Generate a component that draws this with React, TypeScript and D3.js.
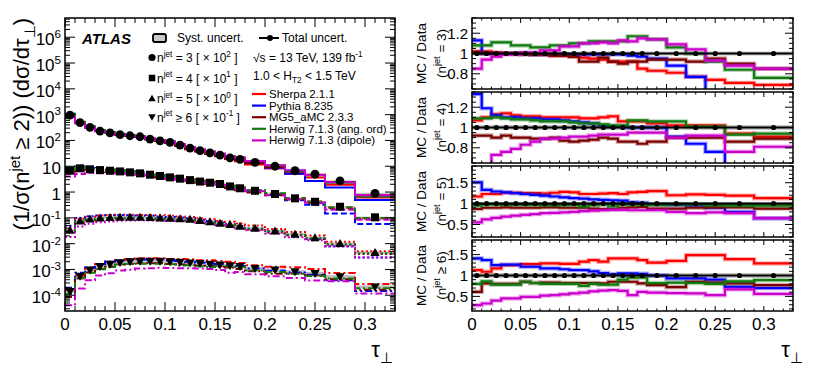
import React from 'react';
import * as d3 from 'd3';

// ---------- data ----------
const binEdges = [0, 0.01, 0.02, 0.03, 0.04, 0.05, 0.06, 0.07, 0.08, 0.09, 0.1, 0.11, 0.12, 0.13, 0.14, 0.15, 0.16, 0.17, 0.18, 0.2, 0.22, 0.24, 0.26, 0.29, 0.33];
const xTickValues = [0, 0.05, 0.1, 0.15, 0.2, 0.25, 0.3];
const xTickLabels = ['0', '0.05', '0.1', '0.15', '0.2', '0.25', '0.3'];
const nJetLabels = ['3', '4', '5', '6'];
const scaleExponents = [2, 1, 0, -1];

// normalised cross sections (unscaled)
const dataN3 = [9.5, 4.9, 3.22, 2.3, 1.95, 1.67, 1.52, 1.39, 1.13, 0.97, 0.84, 0.66, 0.5, 0.4, 0.33, 0.27, 0.21, 0.185, 0.14, 0.1, 0.067, 0.049, 0.027, 0.0089];
const dataN4 = [0.67, 0.83, 0.76, 0.71, 0.67, 0.63, 0.58, 0.53, 0.47, 0.42, 0.37, 0.33, 0.29, 0.255, 0.23, 0.205, 0.165, 0.14, 0.112, 0.084, 0.057, 0.042, 0.027, 0.0105];
const dataN5 = [0.033, 0.075, 0.09, 0.098, 0.102, 0.105, 0.105, 0.104, 0.102, 0.099, 0.096, 0.092, 0.087, 0.078, 0.07, 0.062, 0.055, 0.047, 0.039, 0.031, 0.023, 0.017, 0.01, 0.0045];
const dataN6 = [0.0014, 0.0055, 0.0095, 0.013, 0.016, 0.0185, 0.02, 0.021, 0.021, 0.021, 0.02, 0.019, 0.018, 0.017, 0.016, 0.015, 0.014, 0.013, 0.011, 0.0095, 0.0082, 0.007, 0.0052, 0.0021];

// MC / Data ratios
const sherpaN3 = [1.02, 1.02, 1.01, 1.0, 1.0, 1.0, 0.99, 0.99, 0.98, 0.98, 0.97, 0.96, 0.95, 0.94, 0.92, 0.92, 0.92, 0.85, 0.83, 0.81, 0.77, 0.74, 0.71, 0.69];
const pythiaN3 = [1.13, 1.0, 1.0, 1.0, 1.0, 1.0, 0.99, 0.99, 0.99, 0.99, 0.99, 0.99, 0.99, 0.99, 0.99, 0.99, 0.98, 0.97, 0.95, 0.88, 0.77, 0.55, 0.55, 0.55];
const mg5N3 = [1.01, 1.0, 1.0, 1.0, 1.0, 0.99, 0.99, 0.99, 0.98, 0.98, 0.97, 0.92, 0.92, 0.96, 0.92, 0.9, 0.92, 0.92, 0.94, 0.94, 0.92, 0.95, 0.9, 0.85];
const herwigAngN3 = [1.08, 1.08, 1.11, 1.11, 1.08, 1.08, 1.06, 1.06, 1.08, 1.08, 1.1, 1.1, 1.12, 1.12, 1.12, 1.12, 1.17, 1.17, 1.14, 1.06, 1.0, 0.92, 0.84, 0.76];
const herwigDipN3 = [0.85, 0.94, 0.97, 0.99, 0.99, 1.01, 1.01, 1.03, 1.03, 1.07, 1.07, 1.1, 1.1, 1.11, 1.1, 1.13, 1.12, 1.15, 1.14, 1.09, 1.04, 0.93, 0.88, 0.85];

const sherpaN4 = [1.07, 1.1, 1.13, 1.14, 1.12, 1.11, 1.11, 1.1, 1.1, 1.1, 1.1, 1.09, 1.09, 1.1, 1.11, 1.06, 1.06, 1.06, 1.04, 1.02, 1.02, 1.02, 0.94, 0.91];
const pythiaN4 = [1.33, 1.19, 1.12, 1.1, 1.1, 1.09, 1.09, 1.08, 1.08, 1.07, 1.06, 1.05, 1.04, 1.02, 1.01, 1.01, 1.0, 1.0, 1.0, 0.91, 0.84, 0.76, 0.55, 0.55];
const mg5N4 = [0.92, 0.92, 0.9, 0.92, 0.9, 0.9, 0.89, 0.89, 0.9, 0.87, 0.86, 0.87, 0.88, 0.9, 0.89, 0.86, 0.86, 0.84, 0.86, 0.9, 0.9, 0.9, 0.86, 0.89];
const herwigAngN4 = [1.09, 1.09, 1.1, 1.09, 1.08, 1.08, 1.07, 1.06, 1.06, 1.06, 1.05, 1.04, 1.04, 1.03, 1.02, 1.02, 1.07, 1.07, 1.06, 1.06, 1.01, 1.01, 0.93, 0.94];
const herwigDipN4 = [0.6, 0.6, 0.73, 0.76, 0.79, 0.83, 0.86, 0.89, 0.89, 0.9, 0.91, 0.91, 0.92, 0.93, 0.93, 0.93, 0.95, 0.95, 0.95, 0.9, 0.92, 0.92, 0.76, 0.81];

const sherpaN5 = [1.17, 1.23, 1.23, 1.26, 1.26, 1.25, 1.25, 1.24, 1.26, 1.28, 1.27, 1.23, 1.23, 1.24, 1.25, 1.23, 1.27, 1.28, 1.3, 1.2, 1.22, 1.21, 1.19, 1.13];
const pythiaN5 = [1.51, 1.33, 1.29, 1.27, 1.25, 1.23, 1.21, 1.19, 1.17, 1.15, 1.13, 1.12, 1.1, 1.09, 1.08, 1.07, 1.03, 1.02, 0.98, 0.97, 0.95, 0.9, 0.8, 0.65];
const mg5N5 = [0.87, 0.9, 0.9, 0.91, 0.9, 0.9, 0.9, 0.91, 0.91, 0.9, 0.9, 0.9, 0.88, 0.87, 0.87, 0.9, 0.91, 0.92, 0.88, 0.88, 0.9, 0.91, 0.91, 0.88];
const herwigAngN5 = [0.95, 0.98, 0.98, 0.97, 0.97, 0.97, 0.97, 0.96, 0.96, 0.96, 0.97, 0.93, 0.96, 0.98, 0.93, 0.98, 0.98, 0.98, 0.97, 0.98, 0.98, 0.96, 0.95, 0.95];
const herwigDipN5 = [0.55, 0.62, 0.66, 0.69, 0.71, 0.73, 0.75, 0.77, 0.78, 0.79, 0.8, 0.82, 0.83, 0.84, 0.85, 0.85, 0.84, 0.84, 0.84, 0.8, 0.77, 0.79, 0.77, 0.65];

const sherpaN6 = [1.13, 1.09, 1.17, 1.25, 1.25, 1.27, 1.27, 1.29, 1.29, 1.28, 1.28, 1.33, 1.37, 1.33, 1.41, 1.41, 1.41, 1.37, 1.31, 1.35, 1.49, 1.49, 1.39, 1.29];
const pythiaN6 = [1.41, 1.37, 1.25, 1.26, 1.26, 1.21, 1.21, 1.17, 1.17, 1.15, 1.13, 1.13, 1.1, 1.06, 1.03, 1.05, 1.05, 1.04, 1.0, 0.93, 0.93, 0.9, 0.73, 0.7];
const mg5N6 = [0.61, 0.81, 0.8, 0.8, 0.8, 0.85, 0.82, 0.83, 0.83, 0.82, 0.82, 0.82, 0.82, 0.81, 0.85, 0.85, 0.85, 0.81, 0.77, 0.72, 0.85, 0.83, 0.81, 0.77];
const herwigAngN6 = [0.8, 0.86, 0.78, 0.78, 0.78, 0.85, 0.82, 0.8, 0.8, 0.8, 0.8, 0.75, 0.8, 0.78, 0.78, 0.9, 0.95, 0.95, 0.82, 0.83, 0.82, 0.8, 0.86, 0.89];
const herwigDipN6 = [0.29, 0.33, 0.4, 0.45, 0.45, 0.49, 0.49, 0.52, 0.53, 0.55, 0.57, 0.59, 0.62, 0.64, 0.65, 0.63, 0.53, 0.61, 0.59, 0.58, 0.57, 0.53, 0.67, 0.56];

const relSystUncert = [0.02, 0.025, 0.04, 0.06];

const mcNames = ['Sherpa 2.1.1', 'Pythia 8.235', 'MG5_aMC 2.3.3', 'Herwig 7.1.3 (ang. ord)', 'Herwig 7.1.3 (dipole)'];
const mcColors = ['#ff0000', '#0000ff', '#7a0000', '#0f7a0f', '#cc00cc'];

const dataByN = [dataN3, dataN4, dataN5, dataN6];
const ratiosByN = [
  [sherpaN3, pythiaN3, mg5N3, herwigAngN3, herwigDipN3],
  [sherpaN4, pythiaN4, mg5N4, herwigAngN4, herwigDipN4],
  [sherpaN5, pythiaN5, mg5N5, herwigAngN5, herwigDipN5],
  [sherpaN6, pythiaN6, mg5N6, herwigAngN6, herwigDipN6],
];

// ---------- layout ----------
const W = 814, H = 386;
const FONT = '"Liberation Sans", Arial, Helvetica, sans-serif';
const L = { x0: 65, x1: 395, y0: 18, y1: 311 };
const R = { x0: 472, x1: 793 };
const ratioPanels = [
  { top: 18, bot: 89, dom: [0.65, 1.35], major: [0.8, 1, 1.2], labels: ['0.8', '1', '1.2'], minor: 0.05 },
  { top: 92, bot: 163, dom: [0.65, 1.35], major: [0.8, 1, 1.2], labels: ['0.8', '1', '1.2'], minor: 0.05 },
  { top: 166, bot: 237, dom: [0.2, 1.9], major: [0.5, 1, 1.5], labels: ['0.5', '1', '1.5'], minor: 0.1 },
  { top: 240, bot: 311, dom: [0.15, 1.85], major: [0.5, 1, 1.5], labels: ['0.5', '1', '1.5'], minor: 0.1 },
];
const leftDash = ['none', '6,3', '2,2.5', '7,3,2,3'];

type Part = { t: string; s?: 'sup' | 'sub' };
function Rich(props: { parts: Part[]; x?: number; y?: number; size: number; anchor?: string; transform?: string; weight?: string; style?: string }) {
  const { parts, x = 0, y = 0, size, anchor = 'start', transform } = props;
  let cur = 0;
  const spans = parts.map((p, i) => {
    const target = p.s === 'sup' ? -size * 0.42 : p.s === 'sub' ? size * 0.28 : 0;
    const dy = target - cur;
    cur = target;
    return (
      <tspan key={i} dy={dy} fontSize={p.s ? size * 0.68 : size}>
        {p.t}
      </tspan>
    );
  });
  return (
    <text x={x} y={y} fontSize={size} textAnchor={anchor} transform={transform} fontFamily={FONT} fontWeight={props.weight} fontStyle={props.style} fill="#000">
      {spans}
    </text>
  );
}

function Marker({ kind, x, y, s }: { kind: number; x: number; y: number; s: number }) {
  if (kind === 0) return <circle cx={x} cy={y} r={s * 0.55} fill="#000" />;
  if (kind === 1) return <rect x={x - s * 0.5} y={y - s * 0.5} width={s} height={s} fill="#000" />;
  if (kind === 2) {
    const h = s * 0.95;
    return <path d={`M${x - s * 0.58},${y + h * 0.45}L${x + s * 0.58},${y + h * 0.45}L${x},${y - h * 0.6}Z`} fill="#000" />;
  }
  const h = s * 0.95;
  return <path d={`M${x - s * 0.58},${y - h * 0.45}L${x + s * 0.58},${y - h * 0.45}L${x},${y + h * 0.6}Z`} fill="#000" />;
}

function stepPoints(values: number[]): [number, number][] {
  const pts: [number, number][] = values.map((v, i) => [binEdges[i], v]);
  pts.push([binEdges[binEdges.length - 1], values[values.length - 1]]);
  return pts;
}

export default function App() {
  const xL = d3.scaleLinear().domain([0, 0.33]).range([L.x0, L.x1]);
  const yL = d3.scaleLog().domain([Math.pow(10, -4.61), Math.pow(10, 6.745)]).range([L.y1, L.y0]);
  const xR = d3.scaleLinear().domain([0, 0.33]).range([R.x0, R.x1]);
  const centers = binEdges.slice(0, -1).map((e, i) => (e + binEdges[i + 1]) / 2);

  const elems: React.ReactNode[] = [];

  // ---------------- LEFT PANEL ----------------
  dataByN.forEach((d, n) => {
    const sc = Math.pow(10, scaleExponents[n]);
    d.forEach((v, i) => {
      const u = relSystUncert[n] * 2.5;
      elems.push(
        <rect key={`sb${n}-${i}`} x={xL(binEdges[i])} width={xL(binEdges[i + 1]) - xL(binEdges[i])}
          y={yL(v * sc * (1 + u))} height={yL(v * sc * (1 - u)) - yL(v * sc * (1 + u))} fill="#bdbdbd" />
      );
    });
  });
  const lineL = d3.line<[number, number]>().x((p) => xL(p[0])).y((p) => yL(p[1])).curve(d3.curveStepAfter);
  dataByN.forEach((d, n) => {
    const sc = Math.pow(10, scaleExponents[n]);
    ratiosByN[n].forEach((r, m) => {
      const vals = d.map((v, i) => v * sc * r[i]);
      elems.push(
        <path key={`mc${n}-${m}`} d={lineL(stepPoints(vals)) || ''} fill="none" stroke={mcColors[m]}
          strokeWidth={2} strokeDasharray={leftDash[n] === 'none' ? undefined : leftDash[n]} />
      );
    });
  });
  dataByN.forEach((d, n) => {
    const sc = Math.pow(10, scaleExponents[n]);
    d.forEach((v, i) => {
      elems.push(<Marker key={`dm${n}-${i}`} kind={n} x={xL(centers[i])} y={yL(v * sc)} s={8} />);
    });
  });

  const leftTicks: React.ReactNode[] = [];
  for (let t = 0; t <= 0.33 + 1e-9; t += 0.01) {
    const tt = Math.round(t * 100) / 100;
    const major = Math.abs(tt * 20 - Math.round(tt * 20)) < 1e-6;
    const len = major ? 9 : 5;
    const x = xL(tt);
    leftTicks.push(<line key={`lxb${tt}`} x1={x} x2={x} y1={L.y1} y2={L.y1 - len} stroke="#000" strokeWidth={1} />);
    leftTicks.push(<line key={`lxt${tt}`} x1={x} x2={x} y1={L.y0} y2={L.y0 + len} stroke="#000" strokeWidth={1} />);
  }
  const [ymin, ymax] = yL.domain();
  for (let dec = -5; dec <= 6; dec++) {
    for (let k = 1; k <= 9; k++) {
      const v = k * Math.pow(10, dec);
      if (v < ymin || v > ymax) continue;
      const y = yL(v);
      const len = k === 1 ? 10 : 5;
      leftTicks.push(<line key={`lyl${dec}-${k}`} x1={L.x0} x2={L.x0 + len} y1={y} y2={y} stroke="#000" strokeWidth={1} />);
      leftTicks.push(<line key={`lyr${dec}-${k}`} x1={L.x1} x2={L.x1 - len} y1={y} y2={y} stroke="#000" strokeWidth={1} />);
    }
  }
  const yLabels: React.ReactNode[] = [];
  for (let dec = -4; dec <= 6; dec++) {
    const y = yL(Math.pow(10, dec));
    let parts: Part[];
    if (dec === 0) parts = [{ t: '1' }];
    else if (dec === 1) parts = [{ t: '10' }];
    else parts = [{ t: '10' }, { t: String(dec), s: 'sup' }];
    yLabels.push(<Rich key={`yl${dec}`} parts={parts} x={61} y={y + 8} size={17} anchor="end" />);
  }

  // ---------------- RIGHT PANELS ----------------
  const rightElems: React.ReactNode[] = [];
  ratioPanels.forEach((p, n) => {
    const yR = d3.scaleLinear().domain(p.dom).range([p.bot, p.top]);
    const clipId = `clip${n}`;
    const lineR = d3.line<[number, number]>().x((q) => xR(q[0])).y((q) => yR(q[1])).curve(d3.curveStepAfter);
    const inner: React.ReactNode[] = [];
    centers.forEach((c, i) => {
      const u = relSystUncert[n];
      inner.push(<rect key={`rb${i}`} x={xR(binEdges[i])} width={xR(binEdges[i + 1]) - xR(binEdges[i])}
        y={yR(1 + u)} height={yR(1 - u) - yR(1 + u)} fill="#c4c4c4" />);
    });
    ratiosByN[n].forEach((r, m) => {
      const d = lineR(stepPoints(r)) || '';
      inner.push(<path key={`h${m}`} d={d} fill="none" stroke={mcColors[m]} strokeOpacity={0.3} strokeWidth={4.5} />);
      inner.push(<path key={`l${m}`} d={d} fill="none" stroke={mcColors[m]} strokeWidth={2.2} />);
    });
    inner.push(<line key="one" x1={R.x0} x2={R.x1} y1={yR(1)} y2={yR(1)} stroke="#000" strokeWidth={2.2} />);
    centers.forEach((c, i) => {
      inner.push(<circle key={`dot${i}`} cx={xR(c)} cy={yR(1)} r={2.6} fill="#000" />);
    });
    rightElems.push(
      <g key={`panel${n}`}>
        <clipPath id={clipId}><rect x={R.x0} y={p.top} width={R.x1 - R.x0} height={p.bot - p.top} /></clipPath>
        <g clipPath={`url(#${clipId})`}>{inner}</g>
      </g>
    );
    for (let t = 0; t <= 0.33 + 1e-9; t += 0.01) {
      const tt = Math.round(t * 100) / 100;
      const major = Math.abs(tt * 20 - Math.round(tt * 20)) < 1e-6;
      const len = major ? 5 : 2.5;
      const x = xR(tt);
      rightElems.push(<line key={`rxb${n}-${tt}`} x1={x} x2={x} y1={p.bot} y2={p.bot - len} stroke="#000" strokeWidth={1} />);
      rightElems.push(<line key={`rxt${n}-${tt}`} x1={x} x2={x} y1={p.top} y2={p.top + len} stroke="#000" strokeWidth={1} />);
    }
    const start = Math.ceil(p.dom[0] / p.minor - 1e-9) * p.minor;
    for (let v = start; v <= p.dom[1] + 1e-9; v += p.minor) {
      const vv = Math.round(v * 100) / 100;
      const major = p.major.some((mj) => Math.abs(mj - vv) < 1e-6);
      const len = major ? 8 : 4;
      const y = yR(vv);
      rightElems.push(<line key={`ryl${n}-${vv}`} x1={R.x0} x2={R.x0 + len} y1={y} y2={y} stroke="#000" strokeWidth={1} />);
      rightElems.push(<line key={`ryr${n}-${vv}`} x1={R.x1} x2={R.x1 - len} y1={y} y2={y} stroke="#000" strokeWidth={1} />);
    }
    p.major.forEach((mj, k) => {
      rightElems.push(
        <text key={`ryt${n}-${k}`} x={468} y={yR(mj) + 5.5} fontSize={15} textAnchor="end" fontFamily={FONT}>{p.labels[k]}</text>
      );
    });
    rightElems.push(<rect key={`rf${n}`} x={R.x0} y={p.top} width={R.x1 - R.x0} height={p.bot - p.top} fill="none" stroke="#000" strokeWidth={1.5} />);
    const cy = (p.top + p.bot) / 2;
    rightElems.push(
      <text key={`rtitle${n}`} transform={`translate(426,${cy}) rotate(-90)`} fontSize={13.5} textAnchor="middle" fontFamily={FONT}>MC / Data</text>
    );
    rightElems.push(
      <Rich key={`rsub${n}`} transform={`translate(446,${cy}) rotate(-90)`} size={13.5} anchor="middle"
        parts={[{ t: '(n' }, { t: 'jet', s: 'sup' }, { t: n === 3 ? ' ≥ 6)' : ` = ${nJetLabels[n]})` }]} />
    );
  });

  const xLabels: React.ReactNode[] = [];
  xTickValues.forEach((v, i) => {
    xLabels.push(<text key={`xlL${i}`} x={xL(v)} y={330} fontSize={17} textAnchor="middle" fontFamily={FONT}>{xTickLabels[i]}</text>);
    xLabels.push(<text key={`xlR${i}`} x={xR(v)} y={330} fontSize={17} textAnchor="middle" fontFamily={FONT}>{xTickLabels[i]}</text>);
  });

  const legend: React.ReactNode[] = [];
  legend.push(<rect key="sbox" x={153} y={34} width={13} height={8} rx={2} fill="#c8c8c8" stroke="#000" strokeWidth={1.8} />);
  legend.push(<text key="stext" x={177} y={42} fontSize={12} fontFamily={FONT}>Syst. uncert.</text>);
  legend.push(<line key="tline" x1={259} x2={279} y1={38} y2={38} stroke="#000" strokeWidth={2} />);
  legend.push(<circle key="tdot" cx={270} cy={38} r={3} fill="#000" />);
  legend.push(<text key="ttext" x={282} y={42} fontSize={12} fontFamily={FONT}>Total uncert.</text>);
  const markerRows = [57.5, 78, 98.5, 117];
  nJetLabels.forEach((nl, n) => {
    legend.push(<Marker key={`lm${n}`} kind={n} x={152} y={markerRows[n]} s={6.5} />);
    const e = scaleExponents[n];
    legend.push(
      <Rich key={`lt${n}`} x={157} y={markerRows[n] + 4.5} size={12}
        parts={[{ t: 'n' }, { t: 'jet', s: 'sup' }, { t: n === 3 ? ` ≥ 6 [ × 10` : ` = ${nl} [ × 10` }, { t: String(e), s: 'sup' }, { t: ' ]' }]} />
    );
  });
  legend.push(<Rich key="sqrt" x={253} y={62} size={12} parts={[{ t: '√s = 13 TeV, 139 fb' }, { t: '-1', s: 'sup' }]} />);
  legend.push(<Rich key="ht" x={253} y={80} size={12} parts={[{ t: '1.0 < H' }, { t: 'T2', s: 'sub' }, { t: ' < 1.5 TeV' }]} />);
  mcNames.forEach((name, m) => {
    const y = 94 + m * 11.6;
    legend.push(<line key={`ml${m}`} x1={252} x2={266} y1={y} y2={y} stroke={mcColors[m]} strokeWidth={2.2} />);
    legend.push(<text key={`mt${m}`} x={269} y={y + 4} fontSize={11.5} fontFamily={FONT}>{name}</text>);
  });

  return (
    <svg width={W} height={H} style={{ position: 'absolute', left: 0, top: 0, background: '#fff' }} xmlns="http://www.w3.org/2000/svg">
      <rect x={0} y={0} width={W} height={H} fill="#fff" />
      <defs>
        <clipPath id="clipL"><rect x={L.x0} y={L.y0} width={L.x1 - L.x0} height={L.y1 - L.y0} /></clipPath>
      </defs>
      <g clipPath="url(#clipL)">{elems}</g>
      {leftTicks}
      <rect x={L.x0} y={L.y0} width={L.x1 - L.x0} height={L.y1 - L.y0} fill="none" stroke="#000" strokeWidth={1.5} />
      {yLabels}
      <text x={82} y={44} fontSize={15} fontWeight="bold" fontStyle="italic" fontFamily={FONT}>ATLAS</text>
      {legend}
      <Rich transform="translate(29,18) rotate(-90)" size={22} anchor="end"
        parts={[{ t: '(1/σ(n' }, { t: 'jet', s: 'sup' }, { t: ' ≥ 2)) (dσ/dτ' }, { t: '⊥', s: 'sub' }, { t: ')' }]} />
      {rightElems}
      {xLabels}
      <Rich x={393} y={357} size={22} anchor="end" parts={[{ t: 'τ' }, { t: '⊥', s: 'sub' }]} />
      <Rich x={803} y={357} size={22} anchor="end" parts={[{ t: 'τ' }, { t: '⊥', s: 'sub' }]} />
    </svg>
  );
}
